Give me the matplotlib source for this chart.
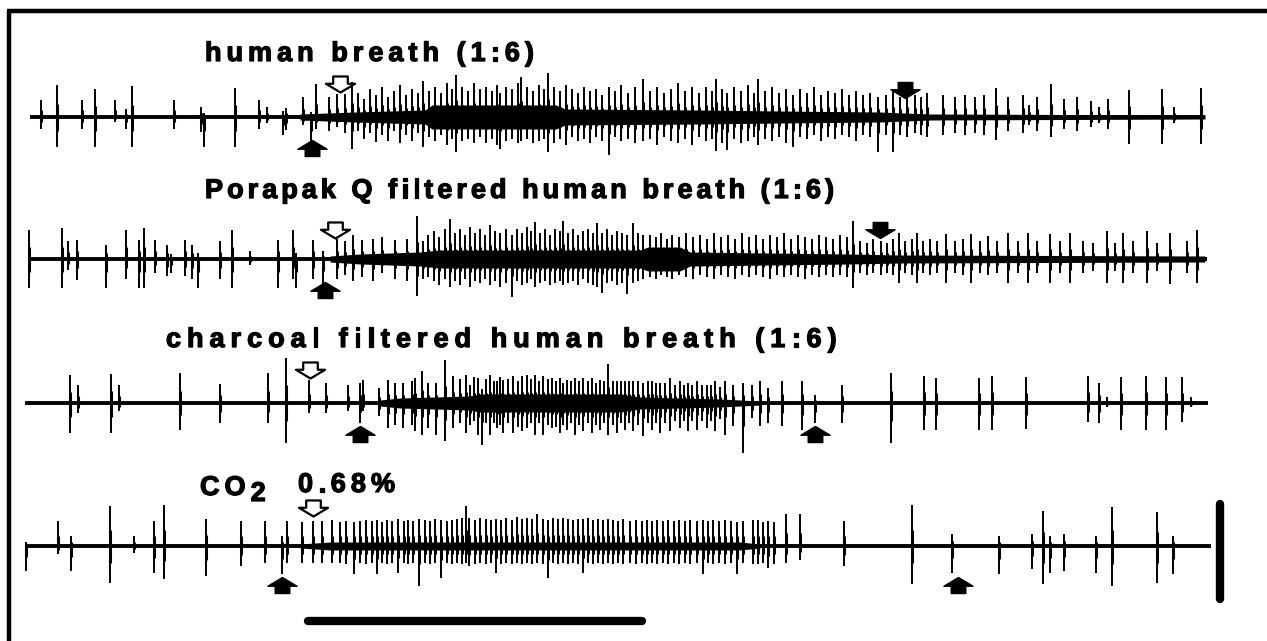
import numpy as np
import matplotlib.pyplot as plt
import matplotlib.patheffects as pe
from matplotlib.path import Path

# ---- recorded spike trains: (time [samples], amplitude up, amplitude down) ----
spikes_breath = [
    (41, 17, 12), (57, 32, 30), (82, 17, 12), (95, 28, 30), (115, 17, 5), (126, 8, 12), (132, 31, 30),
    (174, 17, 12), (201, 10, 15), (204, 4, 30), (235, 29, 30), (259, 17, 12), (267, 10, 6), (283, 6, 18),
    (286, 9, 13), (303, 20, 8), (311, 5, 30), (316, 33, 12), (329, 20, 14), (337, 23, 10), (345, 23, 16),
    (352, 35, 32), (358, 24, 14), (364, 18, 22), (370, 28, 16), (376, 22, 25), (382, 30, 18), (388, 20, 24),
    (394, 26, 14), (400, 32, 26), (406, 22, 18), (412, 28, 24), (418, 24, 16), (423, 36, 30), (429, 26, 20),
    (435, 30, 24), (441, 24, 18), (447, 34, 28), (452, 28, 22), (456, 42, 35), (462, 30, 24), (468, 26, 22),
    (474, 34, 26), (480, 28, 20), (486, 30, 26), (492, 26, 22), (497, 32, 28), (500, 24, 32), (506, 30, 24),
    (512, 28, 22), (518, 34, 26), (521, 40, 24), (527, 30, 22), (533, 26, 26), (539, 32, 24), (544, 28, 22),
    (548, 44, 35), (554, 30, 26), (560, 26, 22), (566, 32, 28), (572, 28, 20), (578, 24, 24), (584, 30, 22),
    (590, 26, 26), (596, 28, 20), (602, 22, 24), (609, 30, 38), (615, 26, 20), (621, 32, 24), (628, 24, 22),
    (635, 30, 26), (643, 38, 24), (650, 26, 22), (657, 30, 28), (664, 24, 20), (671, 28, 24), (678, 34, 26),
    (685, 26, 22), (692, 30, 28), (699, 24, 20), (706, 30, 24), (712, 26, 22), (716, 38, 34), (722, 28, 26),
    (727, 24, 33), (734, 30, 22), (741, 26, 26), (748, 32, 24), (754, 24, 20), (758, 38, 28), (765, 26, 22),
    (772, 30, 24), (779, 24, 20), (786, 28, 26), (793, 22, 30), (800, 28, 20), (807, 24, 22), (814, 30, 18),
    (821, 22, 24), (828, 26, 20), (835, 24, 22), (842, 28, 18), (849, 22, 20), (856, 26, 24), (863, 22, 18),
    (870, 24, 20), (878, 20, 35), (886, 22, 18), (893, 26, 35), (900, 20, 18), (907, 24, 20), (915, 22, 16),
    (921, 20, 18), (927, 24, 20), (943, 22, 18), (955, 20, 16), (965, 22, 18), (975, 20, 16), (984, 22, 18),
    (996, 29, 23), (1008, 20, 14), (1023, 22, 16), (1029, 12, 8), (1037, 20, 14), (1051, 33, 20), (1064, 18, 12),
    (1077, 20, 14), (1091, 16, 10), (1099, 10, 6), (1108, 18, 12), (1129, 27, 27), (1162, 28, 27), (1174, 10, 6),
    (1201, 29, 27),
]

spikes_porapak = [
    (29, 29, 29), (62, 31, 29), (68, 18, 11), (77, 19, 21), (106, 14, 29), (126, 29, 20), (139, 19, 29),
    (144, 31, 29), (155, 19, 14), (167, 14, 17), (171, 5, 14), (185, 19, 17), (192, 14, 20), (198, 6, 29),
    (220, 18, 20), (232, 29, 29), (250, 8, 6), (278, 19, 29), (293, 29, 20), (296, 6, 29), (313, 19, 20),
    (323, 8, 27), (337, 20, 20), (345, 18, 16), (353, 24, 22), (362, 19, 18), (373, 20, 22), (382, 22, 14),
    (395, 19, 20), (407, 20, 22), (417, 43, 37), (423, 18, 20), (428, 24, 18), (434, 28, 22), (439, 22, 26),
    (445, 30, 20), (450, 40, 28), (455, 26, 22), (460, 30, 26), (465, 24, 20), (470, 32, 28), (475, 26, 22),
    (480, 30, 24), (485, 24, 20), (490, 34, 26), (495, 28, 22), (500, 26, 28), (506, 30, 24), (512, 24, 38),
    (517, 30, 22), (522, 26, 26), (527, 32, 24), (531, 28, 20), (535, 37, 28), (540, 26, 24), (545, 30, 22),
    (550, 24, 26), (555, 30, 24), (560, 28, 22), (563, 38, 26), (568, 26, 24), (573, 30, 22), (578, 24, 26),
    (583, 28, 20), (588, 30, 24), (593, 26, 26), (597, 36, 28), (602, 26, 34), (607, 30, 24), (612, 24, 22),
    (617, 28, 26), (622, 26, 24), (627, 24, 35), (633, 36, 24), (638, 26, 22), (643, 24, 20), (650, 24, 18),
    (656, 22, 20), (661, 26, 16), (667, 20, 18), (672, 24, 20), (679, 22, 16), (686, 26, 18), (693, 22, 20),
    (700, 24, 16), (707, 20, 18), (714, 26, 20), (721, 22, 16), (728, 24, 18), (735, 20, 20), (742, 26, 16),
    (749, 22, 18), (756, 24, 16), (763, 20, 18), (770, 24, 20), (777, 22, 16), (784, 26, 18), (791, 20, 16),
    (798, 24, 18), (805, 22, 20), (812, 20, 16), (819, 24, 18), (826, 22, 16), (833, 20, 18), (840, 24, 16),
    (847, 22, 18), (853, 38, 29), (860, 18, 14), (867, 16, 16), (873, 20, 14), (881, 18, 16), (887, 16, 14),
    (893, 20, 16), (899, 26, 24), (905, 18, 14), (912, 20, 16), (917, 26, 24), (923, 18, 14), (930, 20, 16),
    (937, 18, 14), (946, 25, 24), (955, 18, 14), (963, 20, 16), (971, 25, 24), (980, 18, 14), (988, 23, 16),
    (997, 18, 14), (1008, 26, 24), (1018, 18, 14), (1028, 26, 24), (1037, 18, 14), (1050, 25, 24),
    (1060, 18, 14), (1070, 26, 24), (1083, 18, 14), (1093, 16, 12), (1107, 28, 24), (1115, 16, 12),
    (1123, 26, 24), (1133, 18, 14), (1147, 28, 24), (1157, 16, 12), (1170, 26, 25), (1187, 18, 14),
    (1197, 29, 24),
]

spikes_charcoal = [
    (70, 28, 30), (78, 18, 10), (111, 29, 30), (119, 18, 8), (180, 30, 27), (220, 19, 20), (268, 30, 20),
    (286, 45, 40), (309, 23, 10), (326, 20, 10), (348, 18, 8), (360, 20, 20), (363, 23, 8), (379, 15, 13),
    (388, 23, 25), (395, 20, 22), (403, 20, 25), (412, 22, 22), (415, 25, 28), (422, 32, 32), (428, 20, 25),
    (436, 20, 32), (445, 43, 38), (453, 27, 25), (460, 24, 20), (466, 28, 30), (470, 18, 22), (474, 26, 18),
    (478, 25, 32), (482, 14, 42), (486, 24, 20), (490, 28, 32), (494, 22, 20), (497, 22, 25), (500, 26, 22),
    (503, 23, 30), (508, 24, 20), (513, 27, 30), (518, 22, 24), (522, 27, 28), (527, 28, 25), (531, 24, 20),
    (535, 28, 32), (539, 22, 20), (543, 27, 32), (548, 24, 22), (552, 25, 25), (556, 22, 24), (560, 25, 30),
    (563, 20, 22), (567, 23, 27), (571, 22, 20), (575, 25, 32), (579, 22, 22), (583, 25, 28), (588, 22, 20),
    (592, 25, 30), (596, 20, 22), (600, 23, 27), (604, 22, 20), (608, 39, 32), (613, 22, 22), (617, 22, 30),
    (621, 22, 20), (625, 22, 27), (629, 22, 20), (633, 22, 28), (638, 22, 22), (643, 20, 33), (648, 22, 20),
    (652, 22, 27), (656, 20, 20), (660, 20, 30), (665, 20, 20), (670, 25, 28), (675, 18, 18), (680, 22, 25),
    (684, 18, 18), (688, 20, 28), (692, 18, 18), (697, 22, 27), (702, 18, 18), (707, 18, 25), (711, 18, 18),
    (715, 22, 28), (720, 16, 16), (725, 22, 32), (733, 18, 23), (743, 20, 50), (752, 18, 15), (760, 22, 23),
    (768, 15, 20), (782, 22, 23), (802, 22, 27), (815, 8, 20), (842, 18, 20), (891, 30, 40), (924, 27, 27),
    (936, 25, 27), (979, 25, 27), (992, 27, 27), (1026, 26, 26), (1088, 27, 19), (1099, 20, 20), (1107, 6, 4),
    (1121, 26, 27), (1146, 27, 27), (1166, 26, 27), (1182, 26, 19), (1191, 6, 4),
]

spikes_co2 = [
    (26, 4, 25), (58, 25, 8), (71, 10, 25), (110, 40, 37), (134, 10, 7), (154, 25, 27), (164, 41, 33),
    (206, 27, 30), (241, 25, 20), (265, 25, 17), (282, 10, 28), (287, 25, 17), (302, 24, 17), (313, 25, 17),
    (322, 25, 17), (332, 26, 17), (340, 24, 17), (346, 25, 18), (354, 24, 28), (360, 25, 17), (366, 26, 18),
    (372, 25, 17), (377, 26, 28), (382, 24, 17), (387, 26, 18), (392, 25, 17), (398, 27, 27), (404, 25, 17),
    (408, 26, 18), (413, 25, 17), (419, 27, 40), (425, 26, 17), (430, 25, 18), (435, 27, 17), (441, 26, 32),
    (447, 25, 17), (452, 26, 18), (457, 27, 17), (462, 28, 18), (466, 40, 17), (469, 28, 20), (475, 26, 18),
    (480, 28, 17), (486, 27, 18), (491, 26, 17), (496, 27, 27), (501, 26, 18), (506, 28, 17), (512, 26, 18),
    (517, 29, 17), (522, 27, 18), (527, 28, 17), (532, 27, 18), (537, 32, 17), (543, 27, 18), (548, 26, 32),
    (553, 28, 17), (558, 27, 18), (563, 28, 17), (568, 27, 18), (573, 26, 17), (578, 27, 18), (583, 27, 27),
    (588, 28, 17), (593, 26, 18), (598, 27, 17), (603, 26, 18), (608, 27, 17), (613, 26, 18), (618, 25, 17),
    (623, 27, 18), (630, 25, 17), (636, 26, 18), (642, 25, 17), (647, 26, 18), (652, 25, 17), (657, 26, 18),
    (663, 25, 17), (668, 26, 18), (674, 25, 17), (679, 26, 18), (685, 25, 17), (690, 26, 18), (697, 25, 17),
    (703, 26, 28), (708, 25, 17), (713, 26, 18), (719, 25, 17), (725, 26, 18), (731, 25, 17), (737, 24, 28),
    (743, 25, 17), (753, 26, 18), (758, 26, 18), (763, 24, 17), (768, 25, 22), (774, 24, 18), (786, 32, 17),
    (800, 32, 14), (844, 25, 20), (912, 41, 38), (952, 12, 27), (999, 10, 28), (1032, 12, 23), (1043, 35, 38),
    (1050, 10, 27), (1064, 12, 25), (1096, 10, 27), (1112, 39, 40), (1157, 34, 37), (1173, 10, 28),
]

# burst envelope (time, half-height of the dense noise band)
band_breath = [(300, 3), (355, 5), (425, 7), (432, 12), (556, 12), (565, 8), (700, 7),
               (780, 6), (880, 5), (930, 3), (1205, 2)]
band_porapak = [(330, 3), (360, 5), (420, 7), (440, 9), (640, 9), (648, 12), (680, 12), (690, 7),
                (850, 5), (900, 4), (1205, 3)]
band_charcoal = [(380, 3), (400, 5), (470, 7), (480, 9), (620, 9), (640, 6), (720, 4), (760, 2)]
band_co2 = [(300, 2), (330, 4), (740, 4), (760, 2)]

# stimulus markers (time): open = stimulus on, filled = response on / off
open_arrows = [340, 335, 310, 313]
up_arrows = [[312], [325], [360, 815], [282, 958]]
down_arrows = [[905], [880], [], []]

labels = ["human breath (1:6)", "Porapak Q filtered human breath (1:6)",
          "charcoal filtered human breath (1:6)"]

# ---- layout (pixels of the 1267 x 641 canvas) ----
baselines = [117, 259, 403, 546]
trace_span = [(30, 1205), (28, 1207), (25, 1208), (25, 1211)]
label_pos = [(205, 61), (205, 198), (166, 347)]
label_track = [5.0, 4.0, 6.0]
open_y = [84, 230, 370, 508]
up_y = [148, 290, 434, 585]
down_y = [90, 230, 0, 0]

fig = plt.figure(figsize=(12.67, 6.41), dpi=100)
ax = fig.add_axes([0, 0, 1, 1])
ax.set_xlim(0, 1267)
ax.set_ylim(641, 0)
ax.axis('off')

# frame (left and top edges only)
ax.plot([9, 9], [641, 11], color='black', lw=3.2, solid_capstyle='butt')
ax.plot([7, 1267], [11, 11], color='black', lw=3.2, solid_capstyle='butt')


def draw_trace(spikes, band, base, span):
    ax.plot(span, [base, base], color='black', lw=2.8, solid_capstyle='butt')
    bt = [p[0] for p in band]
    bh = np.array([p[1] for p in band])
    ax.fill_between(bt, base - bh, base + bh, color='black', lw=0)
    t = np.array([s[0] for s in spikes])
    up = np.array([s[1] for s in spikes])
    dn = np.array([s[2] for s in spikes])
    ax.vlines(t, base - up, base + dn, color='black', lw=1.4)
    ax.vlines(t, base - 0.4 * up, base + 0.45 * dn, color='black', lw=2.2)


all_spikes = [spikes_breath, spikes_porapak, spikes_charcoal, spikes_co2]
all_bands = [band_breath, band_porapak, band_charcoal, band_co2]
for i in range(4):
    draw_trace(all_spikes[i], all_bands[i], baselines[i], trace_span[i])

# arrow markers
arrow_down = Path([(-0.5, 0.55), (0.5, 0.55), (0.5, 0.05), (1.0, 0.05), (0, -0.55),
                   (-1.0, 0.05), (-0.5, 0.05), (-0.5, 0.55)], closed=True)
arrow_up = Path([(x, -y) for x, y in arrow_down.vertices], closed=True)
for i in range(4):
    ax.plot([open_arrows[i]], [open_y[i]], marker=arrow_down, ms=21, mfc='white',
            mec='black', mew=1.6, ls='none')
    ax.plot(up_arrows[i], [up_y[i]] * len(up_arrows[i]), marker=arrow_up, ms=21,
            mfc='black', mec='black', ls='none')
    ax.plot(down_arrows[i], [down_y[i]] * len(down_arrows[i]), marker=arrow_down, ms=21,
            mfc='black', mec='black', ls='none')

# tracked bold labels
renderer = fig.canvas.get_renderer()
px_per_pt = 100 / 72.0
heavy = [pe.withStroke(linewidth=0.9, foreground='black')]


def tracked_text(x, y, parts, size=19.5, track=5.0):
    for s, dy in parts:
        for ch in s:
            if ch == ' ':
                x += 0.278 * size * px_per_pt + track
                continue
            t = ax.text(x, y + dy, ch, fontsize=size, fontweight='bold',
                        family=['Liberation Sans', 'DejaVu Sans'], va='baseline', ha='left',
                        path_effects=heavy)
            x += t.get_window_extent(renderer=renderer).width + track
    return x


for i, lab in enumerate(labels):
    tracked_text(label_pos[i][0], label_pos[i][1], [(lab, 0)], track=label_track[i])
tracked_text(200, 495, [("CO", 0), ("2", 6)])
tracked_text(298, 492, [("0.68%", 0)])

# scale bars
ax.plot([308, 642], [621, 621], color='black', lw=6, solid_capstyle='round')
ax.plot([1220, 1220], [504, 599], color='black', lw=6, solid_capstyle='round')

fig.savefig('out.png', dpi=100)
